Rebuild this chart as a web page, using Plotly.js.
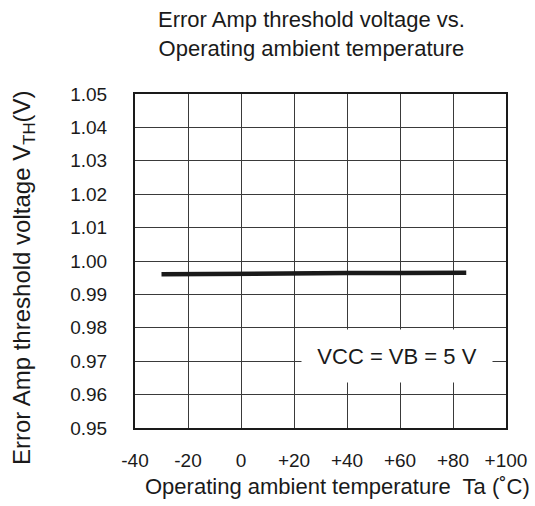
<!DOCTYPE html>
<html>
<head>
<meta charset="utf-8">
<script src="https://cdn.plot.ly/plotly-3.0.1.min.js"></script>
<style>html,body{margin:0;padding:0;background:#fff;}#chart{width:535px;height:506px;}</style>
</head>
<body>
<div id="chart"></div>
<script>
var temperature = [-30, -20, 0, 20, 40, 60, 85];
var thresholdVoltage = [0.9960, 0.9961, 0.9962, 0.9963, 0.9964, 0.9964, 0.9965];
var xTickVals = [-40, -20, 0, 20, 40, 60, 80, 100];
var xTickText = ['-40', '-20', '0', '+20', '+40', '+60', '+80', '+100'];
var yTickVals = [0.95, 0.96, 0.97, 0.98, 0.99, 1.00, 1.01, 1.02, 1.03, 1.04, 1.05];
var yTickText = ['0.95', '0.96', '0.97', '0.98', '0.99', '1.00', '1.01', '1.02', '1.03', '1.04', '1.05'];

var font = 'Liberation Sans, Arial, sans-serif';
var ink = '#1a1a1a';
var trace = {
  x: temperature, y: thresholdVoltage, mode: 'lines', type: 'scatter',
  line: {color: ink, width: 4.5}, hoverinfo: 'none'
};
var layout = {
  width: 535, height: 506,
  margin: {l: 135, r: 29, t: 94, b: 78},
  paper_bgcolor: '#fff', plot_bgcolor: '#fff',
  showlegend: false,
  font: {family: font, color: ink, size: 19},
  xaxis: {
    range: [-40, 100], tickvals: xTickVals, ticktext: xTickText,
    showgrid: true, gridcolor: '#3a3a3a', gridwidth: 1,
    showline: true, linecolor: ink, linewidth: 2, mirror: true,
    ticks: '', ticklabelstandoff: 14, zeroline: false,
    tickfont: {family: font, size: 19, color: ink},
    automargin: false, fixedrange: true
  },
  yaxis: {
    range: [0.95, 1.05], tickvals: yTickVals, ticktext: yTickText,
    showgrid: true, gridcolor: '#3a3a3a', gridwidth: 1,
    showline: true, linecolor: ink, linewidth: 2, mirror: true,
    ticks: '', ticklabelstandoff: 22, zeroline: false,
    tickfont: {family: font, size: 19, color: ink},
    automargin: false, fixedrange: true
  },
  annotations: [{
    x: 0.477, y: 1.18, xref: 'paper', yref: 'paper', xanchor: 'center', yanchor: 'middle',
    text: 'Error Amp threshold voltage vs.<br>Operating ambient temperature', showarrow: false,
    font: {family: font, size: 22, color: ink}
  }, {
    x: 0.5445, y: -0.1766, xref: 'paper', yref: 'paper', xanchor: 'center', yanchor: 'middle',
    text: 'Operating ambient temperature  Ta (˚C)', showarrow: false,
    font: {family: font, size: 22, color: ink}
  }, {
    x: -0.302, y: 0.452, xref: 'paper', yref: 'paper', xanchor: 'center', yanchor: 'middle',
    text: 'Error Amp threshold voltage V<sub>TH</sub>(V)', showarrow: false, textangle: -90,
    font: {family: font, size: 24, color: ink}
  }, {
    x: 59, y: 0.9716, xref: 'x', yref: 'y',
    text: 'VCC = VB = 5 V', showarrow: false,
    font: {family: font, size: 22, color: ink},
    bgcolor: '#fff', width: 188, height: 50, borderpad: 1
  }]
};
Plotly.newPlot('chart', [trace], layout, {staticPlot: true, displayModeBar: false});
</script>
</body>
</html>
